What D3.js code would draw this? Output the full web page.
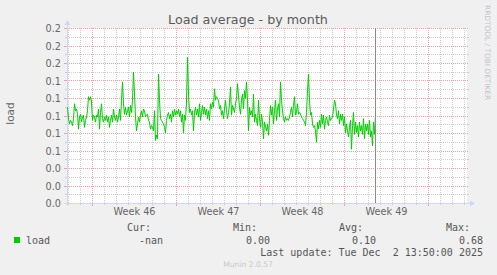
<!DOCTYPE html>
<html>
<head>
<meta charset="utf-8">
<script src="https://cdn.jsdelivr.net/npm/d3@7"></script>
<style>
  html, body { margin: 0; padding: 0; background: #F0F0F0; }
  svg { display: block; }
  text { white-space: pre; }
</style>
</head>
<body>
<svg id="chart" width="497" height="275"></svg>
<script>
// ---------------- DATA ----------------
const title = "Load average - by month";
const yAxisTitle = "load";
const seriesName = "load";
const seriesStart = Date.UTC(2025, 10, 6, 22, 0);   // first sample
const seriesStepHours = 2;                            // one sample every 2 hours
const loadValues = [
  .110,.097,.091,.095,.093,.089,.097,.114,.106,.108,
  .102,.085,.099,.102,.093,.099,.101,.087,.095,.099,
  .106,.122,.118,.122,.116,.095,.101,.099,.093,.101,
  .099,.108,.085,.104,.114,.097,.093,.099,.095,.101,
  .093,.099,.087,.095,.101,.093,.108,.099,.095,.101,
  .093,.099,.108,.095,.118,.139,.114,.102,.110,.101,
  .106,.110,.099,.112,.104,.118,.150,.125,.099,.083,
  .091,.099,.093,.101,.106,.099,.108,.106,
  .099,.101,.102,.095,.093,.085,.089,.087,.083,.106,
  .072,.078,.074,.148,.118,.097,.095,.093,.091,.087,
  .081,.095,.101,.104,.097,.102,.093,.106,.099,.108,
  .101,.106,.102,.108,.099,.106,.093,.102,.081,.101,
  .095,.116,.167,.125,.104,.108,.101,.106,.083,.104,
  .110,.101,.108,.099,.114,.095,.104,.112,.102,.110,
  .101,.108,.097,.106,.095,.114,.108,.116,.110,.131,
  .118,.122,.120,.118,.108,
  .112,.101,.106,.097,.108,.118,.106,.097,.104,.114,
  .133,.101,.112,.108,.104,.114,.120,.137,.123,.110,
  .102,.118,.125,.108,.129,.120,.139,.118,.083,.110,
  .101,.106,.099,.125,.093,.102,.095,.089,.118,.097,
  .087,.102,.093,.074,.093,.087,.083,.091,.078,.095,
  .112,.101,.110,.091,.106,.118,.095,.108,.114,.099,
  .139,.118,.106,.097,.093,.099,.095,.097,.095,.099,
  .104,.110,.099,.112,.122,.101,
  .104,.114,.102,.104,.102,.099,.097,.095,.093,.089,
  .104,.129,.148,.118,.101,.104,.091,.087,.089,.083,
  .070,.093,.085,.095,.087,.102,.091,.101,.085,.095,
  .099,.093,.089,.101,.095,.097,.099,.108,.118,.114,
  .101,.097,.106,.091,.102,.095,.102,.089,.099,.081,
  .091,.083,.076,.087,.095,.062,.089,.104,.079,.093,
  .081,.089,.076,.093,.083,.089,.079,.097,.074,.091,
  .083,.091,.079,.095,.076,.083,.066,.093,.079,.101
];
const timeDomain = [Date.UTC(2025, 10, 6, 22, 0), Date.UTC(2025, 11, 10, 6, 0)];
const nowTime = Date.UTC(2025, 11, 2, 13, 50);
const yDomain = [0, 0.2];
const yTickValues = [0, 0.02, 0.04, 0.06, 0.08, 0.10, 0.12, 0.14, 0.16, 0.18, 0.20];
const yTickLabels = ["0.0","0.0","0.0","0.1","0.1","0.1","0.1","0.1","0.2","0.2","0.2"];
const yMinorValues = [0.01, 0.03, 0.05, 0.07, 0.09, 0.11, 0.13, 0.15, 0.17, 0.19];
const weekCenters = [Date.UTC(2025,10,12,12), Date.UTC(2025,10,19,12), Date.UTC(2025,10,26,12), Date.UTC(2025,11,3,12)];
const weekLabels = ["Week 46", "Week 47", "Week 48", "Week 49"];
const legendHeaders = ["Cur:", "Min:", "Avg:", "Max:"];
const legendValues = ["-nan", "0.00", "0.10", "0.68"];
const lastUpdate = "Last update: Tue Dec  2 13:50:00 2025";
const footer = "Munin 2.0.57";
const sideText = "RRDTOOL / TOBI OETIKER";

// ---------------- LAYOUT ----------------
const X0 = 67, X1 = 467, Y0 = 203, Y1 = 28;
const COL_FONT = "#666666", COL_AXIS = "#CFD6F8";
const COL_GRID = "#cdcdcd", COL_MGRID = "#eaa3a3";
const COL_LINE = "#00CC00";

const svg = d3.select("#chart");
svg.append("rect").attr("width", 497).attr("height", 275).attr("fill", "#F0F0F0");

const x = d3.scaleUtc().domain(timeDomain).range([X0, X1]);
const y = d3.scaleLinear().domain(yDomain).range([Y0, Y1]);
const px = v => Math.round(v) + 0.5;

// canvas
svg.append("rect").attr("x", X0).attr("y", Y1).attr("width", X1 - X0).attr("height", Y0 - Y1).attr("fill", "#FFFFFF");

const grid = svg.append("g").attr("shape-rendering", "crispEdges");
const days = d3.utcDay.range(new Date(timeDomain[0]), new Date(timeDomain[1]));
const weeks = d3.utcSunday.range(new Date(timeDomain[0]), new Date(timeDomain[1]));
const weekSet = new Set(weeks.map(d => +d));
// vertical minor (days)
days.filter(d => !weekSet.has(+d)).forEach(d => {
  const xx = px(x(d));
  grid.append("line").attr("x1", xx).attr("x2", xx).attr("y1", Y1).attr("y2", Y0)
    .attr("stroke", COL_GRID).attr("stroke-dasharray", "1,1");
  grid.append("line").attr("x1", xx).attr("x2", xx).attr("y1", Y0).attr("y2", Y0 + 2).attr("stroke", COL_GRID);
});
// horizontal minor
yMinorValues.forEach(v => {
  const yy = px(y(v));
  grid.append("line").attr("x1", X0).attr("x2", X1).attr("y1", yy).attr("y2", yy)
    .attr("stroke", COL_GRID).attr("stroke-dasharray", "1,1");
  grid.append("line").attr("x1", X0 - 2).attr("x2", X0).attr("y1", yy).attr("y2", yy).attr("stroke", COL_GRID);
  grid.append("line").attr("x1", X1).attr("x2", X1 + 2).attr("y1", yy).attr("y2", yy).attr("stroke", COL_GRID);
});
// vertical major (weeks)
weeks.forEach(d => {
  const xx = px(x(d));
  grid.append("line").attr("x1", xx).attr("x2", xx).attr("y1", Y1).attr("y2", Y0)
    .attr("stroke", COL_MGRID).attr("stroke-dasharray", "1,1");
  grid.append("line").attr("x1", xx).attr("x2", xx).attr("y1", Y0).attr("y2", Y0 + 3).attr("stroke", COL_MGRID);
});
// horizontal major
yTickValues.forEach(v => {
  const yy = px(y(v));
  grid.append("line").attr("x1", X0).attr("x2", X1 + 2).attr("y1", yy).attr("y2", yy)
    .attr("stroke", COL_MGRID).attr("stroke-dasharray", "1,1");
  grid.append("line").attr("x1", X0 - 3).attr("x2", X0).attr("y1", yy).attr("y2", yy).attr("stroke", COL_MGRID);
});

// y axis labels (via d3 axis)
const yAxis = d3.axisLeft(y).tickValues(yTickValues).tickSize(0).tickPadding(0)
  .tickFormat((d, i) => yTickLabels[i]);
const gy = svg.append("g").attr("transform", `translate(${X0 - 6},0.5)`).call(yAxis);
gy.select(".domain").remove();
gy.selectAll("text").attr("fill", COL_FONT).attr("font-family", "DejaVu Sans").attr("font-size", 9.7);

// x axis labels
const xAxis = d3.axisBottom(x).tickValues(weekCenters.map(d => new Date(d))).tickSize(0).tickPadding(0)
  .tickFormat((d, i) => weekLabels[i]);
const gx = svg.append("g").attr("transform", `translate(0,${Y0 + 5})`).call(xAxis);
gx.select(".domain").remove();
gx.selectAll("text").attr("fill", COL_FONT).attr("font-family", "DejaVu Sans").attr("font-size", 9.7);

// axes lines with arrows
const ax = svg.append("g").attr("shape-rendering", "crispEdges");
ax.append("line").attr("x1", X0 + 0.5).attr("x2", X0 + 0.5).attr("y1", Y0 + 3).attr("y2", Y1 - 5).attr("stroke", COL_AXIS);
ax.append("line").attr("x1", X0 - 3).attr("x2", X1 + 4).attr("y1", Y0 + 0.5).attr("y2", Y0 + 0.5).attr("stroke", COL_AXIS);
svg.append("path").attr("d", `M${X0 - 2.5},${Y1 - 3} L${X0 + 3.5},${Y1 - 3} L${X0 + 0.5},${Y1 - 8} Z`).attr("fill", COL_AXIS);
svg.append("path").attr("d", `M${X1 + 3},${Y0 - 2.5} L${X1 + 3},${Y0 + 3.5} L${X1 + 8},${Y0 + 0.5} Z`).attr("fill", COL_AXIS);

// data line
const line = d3.line()
  .x((d, i) => x(new Date(seriesStart + i * seriesStepHours * 3600e3)) + 0.5)
  .y(d => y(d) + 0.5);
svg.append("path").datum(loadValues).attr("d", line)
  .attr("fill", "none").attr("stroke", COL_LINE).attr("stroke-width", 1).attr("stroke-linejoin", "round");

// now rule
svg.append("line").attr("x1", px(x(nowTime))).attr("x2", px(x(nowTime))).attr("y1", Y1).attr("y2", Y0)
  .attr("stroke", "#8a8a8a").attr("shape-rendering", "crispEdges");

// title
svg.append("text").attr("x", 248).attr("y", 24).attr("text-anchor", "middle")
  .attr("font-family", "DejaVu Sans").attr("font-size", 12.7).attr("fill", "#5a5a5a").text(title);

// y axis title
svg.append("text").attr("transform", `translate(14,${(Y0 + Y1) / 2 - 2}) rotate(-90)`).attr("text-anchor", "middle")
  .attr("font-family", "DejaVu Sans").attr("font-size", 10.5).attr("fill", COL_FONT).text(yAxisTitle);

// side text
svg.append("text").attr("transform", `translate(484.5,5) rotate(90)`).attr("text-anchor", "start")
  .attr("font-family", "DejaVu Sans").attr("font-size", 7.4).attr("fill", "#c4c4c4").text(sideText);

// legend
const mono = "DejaVu Sans Mono";
svg.append("rect").attr("x", 14).attr("y", 237).attr("width", 6).attr("height", 6).attr("fill", COL_LINE);
svg.append("text").attr("x", 26).attr("y", 243.5).attr("font-family", mono).attr("font-size", 10)
  .attr("fill", "#555").text(seriesName);
const headerEnds = [151, 257, 363, 470];
const valueEnds = [163, 270, 376, 483];
legendHeaders.forEach((h, i) => {
  svg.append("text").attr("x", headerEnds[i]).attr("y", 231).attr("text-anchor", "end")
    .attr("font-family", mono).attr("font-size", 10).attr("fill", "#555").text(h);
  svg.append("text").attr("x", valueEnds[i]).attr("y", 243.5).attr("text-anchor", "end")
    .attr("font-family", mono).attr("font-size", 10).attr("fill", "#555").text(legendValues[i]);
});
svg.append("text").attr("x", 483).attr("y", 255.5).attr("text-anchor", "end")
  .attr("font-family", mono).attr("font-size", 10).attr("fill", "#555").text(lastUpdate);
svg.append("text").attr("x", 248).attr("y", 267).attr("text-anchor", "middle")
  .attr("font-family", "DejaVu Sans").attr("font-size", 7.6).attr("fill", "#c8c8c8").text(footer);
</script>
</body>
</html>
